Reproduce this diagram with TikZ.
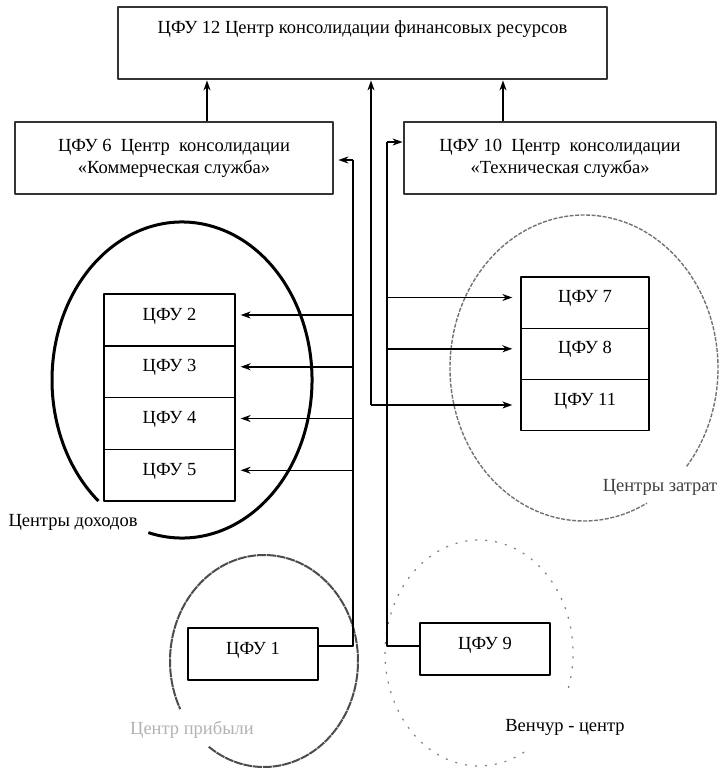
\documentclass[tikz,border=0pt]{standalone}
\usepackage{fontspec}
\setmainfont{Liberation Serif}
\usetikzlibrary{arrows.meta,positioning}

\begin{document}
\begin{tikzpicture}[x=1pt, y=-1pt, line join=round, >={Stealth[length=10pt,width=7pt]},
    font=\fontsize{18.5}{22}\selectfont,
    bigbox/.style={draw=black!80, line width=2.8pt, fill=white, inner sep=0pt, align=center},
    cellbox/.style={draw, line width=1.3pt, minimum width=131pt, minimum height=51.75pt, inner sep=0pt, text depth=12pt},
    link/.style={line width=1.5pt},
    incomebound/.style={line width=3pt, black},
    profitbound/.style={line width=2pt, black!70, dash pattern=on 9pt off 0.8pt},
    costbound/.style={line width=1.4pt, black!55, dash pattern=on 4pt off 1.5pt},
    venturebound/.style={line width=1.2pt, black!50, dash pattern=on 2pt off 8pt}]

	\useasboundingbox (0,0) rectangle (720,768);

	% границы центров ответственности
	\draw[incomebound] (182,380) ++(-255:130 and 158) arc[start angle=-255, end angle=-590, x radius=130, y radius=158];
	\draw[costbound] (584,368) ++(40:134 and 153) arc[start angle=40, end angle=-298, x radius=134, y radius=153];
	\draw[profitbound] (264,661) ++(-234:94 and 106) arc[start angle=-234, end angle=-567, x radius=94, y radius=106];
	\draw[venturebound] (479,653) ++(18:94 and 113) arc[start angle=18, end angle=-302, x radius=94, y radius=113];

	% центры консолидации
	\node[bigbox, minimum width=489pt, minimum height=72pt] (cfu12) at (362.5,43) {};
	\node[anchor=base] (cfu12txt) at (362.5,34) {ЦФУ 12 Центр консолидации финансовых ресурсов};
	\node[bigbox, minimum width=318pt, minimum height=72pt] (cfu6) at (174,158) {ЦФУ 6\ \ Центр\ \ консолидации\\«Коммерческая служба»};
	\node[bigbox, minimum width=312pt, minimum height=72pt] (cfu10) at (560,158) {ЦФУ 10\ \ Центр\ \ консолидации\\«Техническая служба»};

	% центры доходов
	\node[cellbox] (cfu2) at (169.5,320) {ЦФУ 2};
	\node[cellbox, below=-1.3pt of cfu2] (cfu3) {ЦФУ 3};
	\node[cellbox, below=-1.3pt of cfu3] (cfu4) {ЦФУ 4};
	\node[cellbox, below=-1.3pt of cfu4] (cfu5) {ЦФУ 5};

	% центры затрат
	\node[cellbox, minimum width=128pt, minimum height=51.3pt] (cfu7) at (585,302.5) {ЦФУ 7};
	\node[cellbox, minimum width=128pt, minimum height=51.3pt, below=-1.3pt of cfu7] (cfu8) {ЦФУ 8};
	\node[cellbox, minimum width=128pt, minimum height=51.3pt, below=-1.3pt of cfu8] (cfu11) {ЦФУ 11};

	% центр прибыли и венчур-центр
	\node[cellbox, minimum width=130pt, minimum height=52pt, line width=1.6pt] (cfu1) at (253,654) {ЦФУ 1};
	\node[cellbox, minimum width=130pt, minimum height=52pt, line width=1.6pt] (cfu9) at (485,649) {ЦФУ 9};

	% подписи
	\node (incomelbl) at (73,522) {Центры доходов};
	\node[text=black!75] (costlbl) at (660,487) {Центры затрат};
	\node[text=black!30] (profitlbl) at (192,730) {Центр прибыли};
	\node (venturelbl) at (565,727) {Венчур - центр};

	% связи
	\coordinate (revbus) at (353,646);
	\coordinate (revtop) at (353,160);
	\coordinate (techbus) at (387,646);
	\coordinate (techtop) at (387,142);
	\coordinate (costtop) at (371,405);
	\coordinate (upL) at ([xshift=33pt]cfu6.north);
	\coordinate (upR) at ([xshift=-57pt]cfu10.north);

	\draw[link] (cfu1.east |- revbus) -- (revbus) -- (revtop);
	\draw[link,->] (revtop) -- ([xshift=4pt]cfu6.east |- revtop);
	\foreach \cell in {cfu2,cfu3,cfu4,cfu5}{
		\coordinate (\cell tip) at ([xshift=5pt,yshift=5pt]\cell.east);
		\draw[link,->] (revbus |- \cell tip) -- (\cell tip);
	}

	\draw[link] (cfu9.west |- techbus) -- (techbus) -- (techtop);
	\draw[link,->] (techtop) -- (cfu10.west |- techtop);
	\foreach \cell in {cfu7,cfu8}{
		\coordinate (\cell tip) at ([xshift=-8pt,yshift=5pt]\cell.west);
		\draw[link,->] (techbus |- \cell tip) -- (\cell tip);
	}
	\coordinate (cfu11tip) at ([xshift=-8pt]cfu11.west);
	\draw[link,->] (costtop) -- (cfu11tip |- costtop);
	\draw[link,->] (costtop) -- (costtop |- cfu12.south);

	\draw[link,->] (upL) -- (upL |- cfu12.south);
	\draw[link,->] (upR) -- (upR |- cfu12.south);

\end{tikzpicture}
\end{document}
